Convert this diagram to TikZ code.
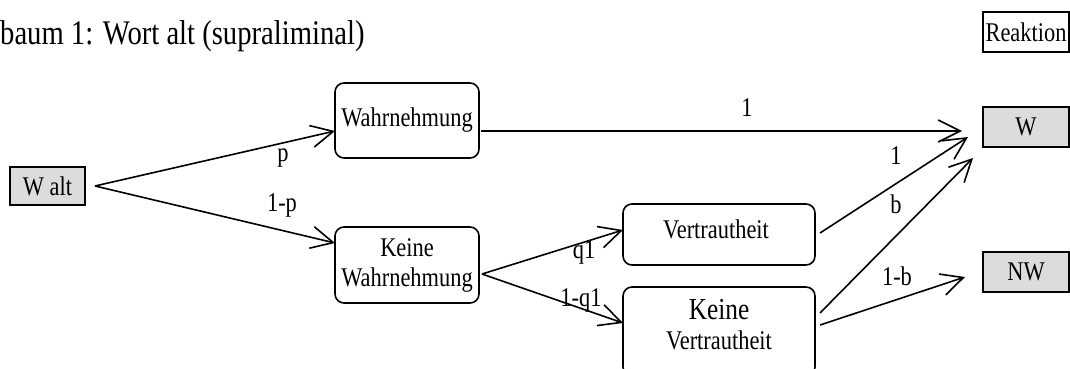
\documentclass[tikz,border=0pt]{standalone}
\usepackage{fontspec}
\setmainfont{Liberation Serif}[FakeStretch=0.83]
\usetikzlibrary{arrows.meta}
\definecolor{boxgray}{RGB}{220,220,220}
\begin{document}
\begin{tikzpicture}[x=1pt,y=-1pt,
  basefont/.style={font=\fontsize{27}{30}\selectfont},
  txt/.style={basefont, inner sep=0pt, align=center},
  lbl/.style={basefont, inner sep=0pt},
  sqbox/.style={basefont, draw, line width=1.6pt, minimum width=86pt, minimum height=40pt, inner sep=0pt},
  graybox/.style={sqbox, fill=boxgray},
  rbox/.style={basefont, draw, line width=1.6pt, rounded corners=9pt, inner sep=0pt, align=center},
  conn/.style={line width=1.6pt, -{Straight Barb[length=22pt,width=22pt]}}
]
\useasboundingbox (0,0) rectangle (1070,369);

% title
\node[anchor=base west, inner sep=0pt, font=\fontsize{34.5}{40}\selectfont] (title) at (0,45) {baum 1: Wort alt (supraliminal)};

% boxes
\node[graybox, minimum width=75pt, minimum height=38pt] (walt) at (47.5,186) {W alt};
\node[rbox, minimum width=144pt, minimum height=75pt] (wahr) at (407,120.5) {Wahrnehmung};
\node[rbox, minimum width=144pt, minimum height=76pt] (kwahr) at (407,265) {Keine\\Wahrnehmung};
\node[rbox, minimum width=192pt, minimum height=61pt] (vert) at (719,234.5) {};
\node[lbl] (vert-t) at (716,229) {Vertrautheit};
\node[rbox, minimum width=192pt, minimum height=89pt] (kvert) at (719,331.5) {};
\node[txt] (kvert-t) at (719,325) {{\fontsize{30.5}{30}\selectfont Keine}\\Vertrautheit};
\node[sqbox] (reak) at (1026,32) {Reaktion};
\node[graybox] (W) at (1026,127) {W};
\node[graybox] (NW) at (1026,272) {NW};

% connector end points
\coordinate (walt-o) at (95,186);
\coordinate (wahr-i) at (335,131);
\coordinate (kwahr-i) at (335,243);
\coordinate (wahr-o) at (481,131);
\coordinate (W-i1) at (962,131);
\coordinate (kwahr-o) at (482,274);
\coordinate (vert-i) at (623,230);
\coordinate (kvert-i) at (623,323);
\coordinate (vert-o) at (820,233);
\coordinate (W-i2) at (968,137);
\coordinate (kvert-o1) at (820,313);
\coordinate (W-i3) at (973,158);
\coordinate (kvert-o2) at (820,325);
\coordinate (NW-i) at (965,277);

% connectors
\draw[conn] (walt-o) -- (wahr-i);
\draw[conn] (walt-o) -- (kwahr-i);
\draw[conn] (wahr-o) -- (W-i1);
\draw[conn] (kwahr-o) -- (vert-i);
\draw[conn] (kwahr-o) -- (kvert-i);
\draw[conn] (vert-o) -- (W-i2);
\draw[conn] (kvert-o1) -- (W-i3);
\draw[conn] (kvert-o2) -- (NW-i);

% labels
\node[lbl] (lp) at (283,158) {p};
\node[lbl] (l1p) at (282,205.5) {1-p};
\node[lbl] (lq1) at (584,252) {q1};
\node[lbl] (l1q1) at (581,300) {1-q1};
\node[lbl] (lone1) at (747,108) {1};
\node[lbl] (lone2) at (896,156) {1};
\node[lbl] (lb) at (896,204) {b};
\node[lbl] (l1b) at (897,276) {1-b};
\end{tikzpicture}
\end{document}
